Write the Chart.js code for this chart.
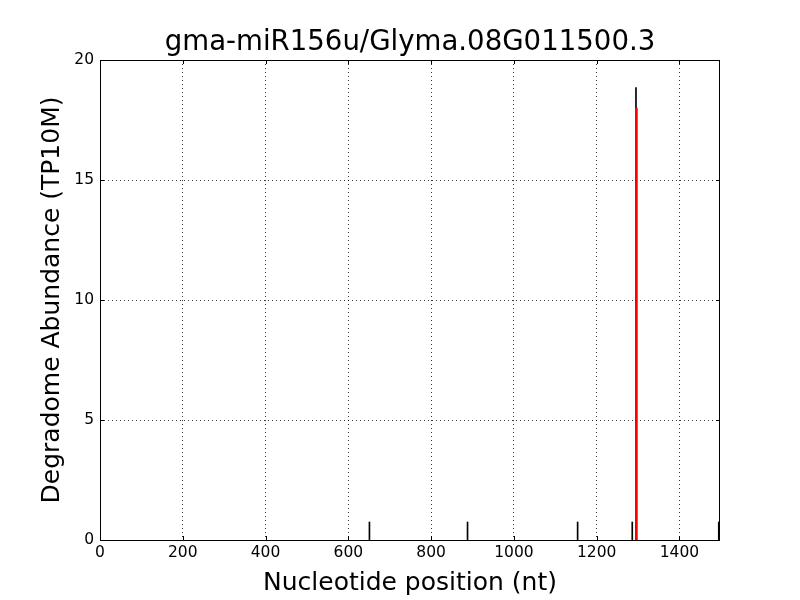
<!DOCTYPE html>
<html>
<head>
<meta charset="utf-8">
<script src="https://cdn.jsdelivr.net/npm/chart.js@4"></script>
<style>
  html, body { margin: 0; padding: 0; background: #fff; }
</style>
</head>
<body>
<canvas id="degradome" width="800" height="600"></canvas>
<script>
// degradome tags along the transcript (nt position, TP10M)
const tagPositions = [651, 888, 1154, 1286, 1295, 1495];
const tagAbundance = [0.75, 0.75, 0.75, 0.75, 18.85, 0.75];

// miRNA cleavage site
const sitePositions = [1296];
const siteAbundance = [18];

const xTicks = [0, 200, 400, 600, 800, 1000, 1200, 1400];
const yTicks = [0, 5, 10, 15, 20];
const transcriptLength = 1498;
const chartTitle = 'gma-miR156u/Glyma.08G011500.3';

const font = 'DejaVu Sans';

// frame, inward tick marks and the title centred over the plot area
const framePlugin = {
  id: 'frame',
  afterDraw(chart) {
    const a = chart.chartArea;
    const ctx = chart.ctx;
    const xs = chart.scales.x, ys = chart.scales.y;
    ctx.save();
    ctx.strokeStyle = '#000';
    ctx.lineWidth = 1;
    ctx.strokeRect(a.left + 0.5, a.top + 0.5, a.right - a.left - 1, a.bottom - a.top);
    ctx.beginPath();
    xTicks.forEach(v => {
      const px = Math.round(xs.getPixelForValue(v)) + 0.5;
      ctx.moveTo(px, a.bottom); ctx.lineTo(px, a.bottom - 4);
      ctx.moveTo(px, a.top); ctx.lineTo(px, a.top + 4);
    });
    yTicks.forEach(v => {
      const py = Math.round(ys.getPixelForValue(v)) + 0.5;
      ctx.moveTo(a.left, py); ctx.lineTo(a.left + 4, py);
      ctx.moveTo(a.right, py); ctx.lineTo(a.right - 4, py);
    });
    ctx.stroke();
    ctx.fillStyle = '#000';
    ctx.font = '27.6px "' + font + '"';
    ctx.textAlign = 'center';
    ctx.textBaseline = 'middle';
    ctx.fillText(chartTitle, (a.left + a.right) / 2, 43);
    ctx.restore();
  }
};

const ctx = document.getElementById('degradome').getContext('2d');
new Chart(ctx, {
  type: 'bar',
  data: {
    datasets: [
      {
        label: 'site',
        data: sitePositions.map((x, i) => ({ x: x, y: siteAbundance[i] })),
        backgroundColor: '#ff0000',
        barThickness: 2,
        grouped: false,
        order: 0
      },
      {
        label: 'tags',
        data: tagPositions.map((x, i) => ({ x: x, y: tagAbundance[i] })),
        backgroundColor: '#000000',
        barThickness: 1,
        grouped: false,
        order: 1
      }
    ]
  },
  options: {
    responsive: false,
    animation: false,
    layout: { padding: { left: 0, right: 80, top: 60, bottom: 0 } },
    plugins: {
      legend: { display: false },
      tooltip: { enabled: false },
      title: { display: false }
    },
    scales: {
      x: {
        type: 'linear',
        min: 0,
        max: transcriptLength,
        offset: false,
        afterBuildTicks: s => { s.ticks = xTicks.map(v => ({ value: v })); },
        afterFit: s => { s.height = 60; },
        ticks: { color: '#000', font: { family: font, size: 15.5 }, padding: 4, maxRotation: 0, autoSkip: false, callback: v => String(v) },
        grid: { color: '#000', lineWidth: 0.8, tickLength: 0, offset: false },
        border: { display: false, dash: [1, 3] },
        title: {
          display: true,
          text: 'Nucleotide position (nt)',
          color: '#000',
          font: { family: font, size: 25 },
          padding: { top: 0, bottom: 2 }
        }
      },
      y: {
        min: 0,
        max: 20,
        afterBuildTicks: s => { s.ticks = yTicks.map(v => ({ value: v })); },
        afterFit: s => { s.width = 100; },
        ticks: { color: '#000', font: { family: font, size: 15.5 }, padding: 6, autoSkip: false, callback: v => String(v) },
        grid: { color: '#000', lineWidth: 0.8, tickLength: 0, offset: false },
        border: { display: false, dash: [1, 3] },
        title: {
          display: true,
          text: 'Degradome Abundance (TP10M)',
          color: '#000',
          font: { family: font, size: 25 },
          padding: { top: 37, bottom: 0 }
        }
      }
    }
  },
  plugins: [framePlugin]
});
</script>
</body>
</html>
